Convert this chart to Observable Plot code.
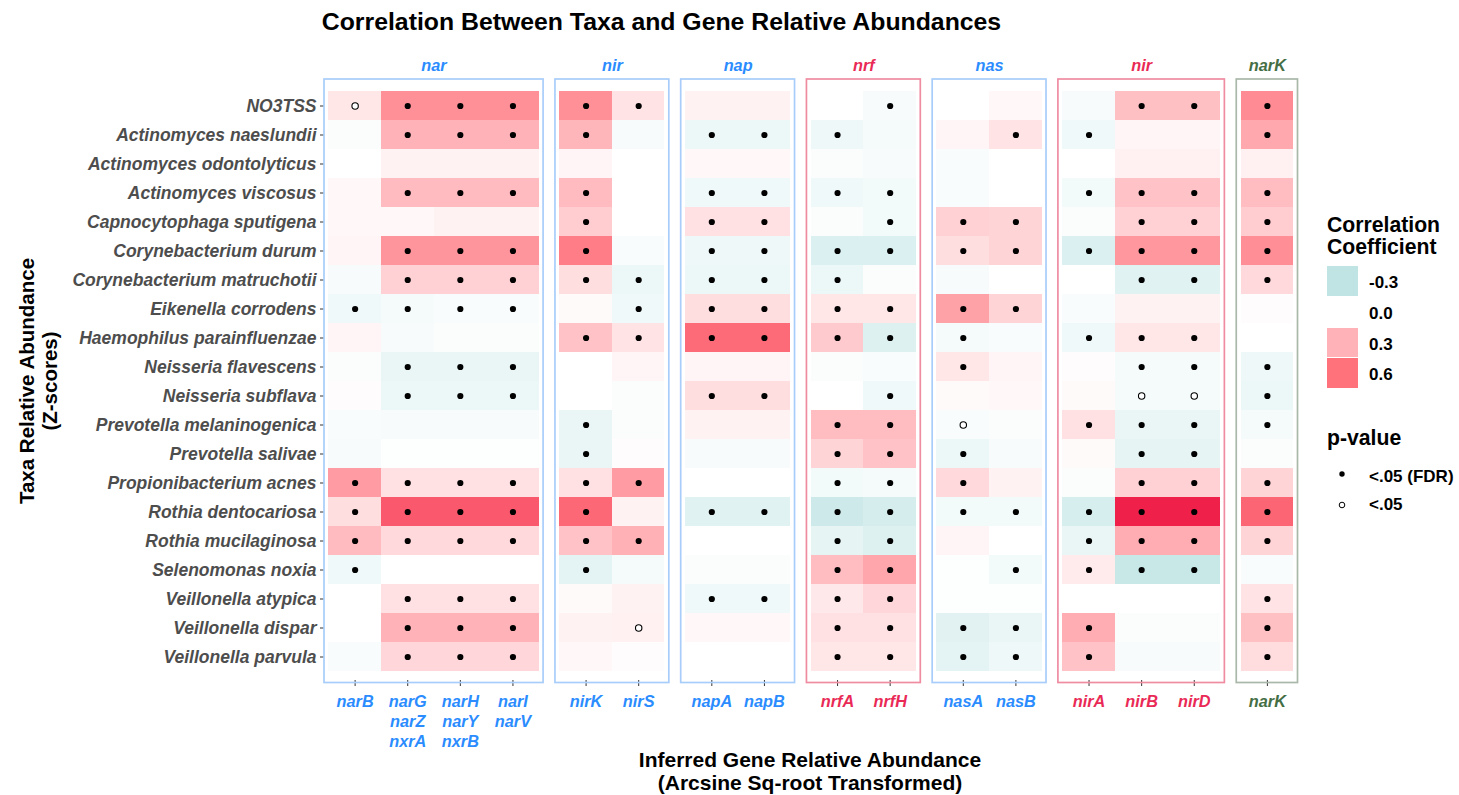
<!DOCTYPE html>
<html><head><meta charset="utf-8">
<script src="https://cdn.jsdelivr.net/npm/d3@7"></script>
<script src="https://cdn.jsdelivr.net/npm/@observablehq/plot@0.6"></script>
<style>
body{margin:0;background:#fff;font-family:"Liberation Sans",Arial,sans-serif;}
#wrap{position:relative;width:1459px;height:795px;overflow:hidden;background:#fff;}
#chart{position:absolute;left:0;top:0;}
.abs{position:absolute;font-weight:bold;color:#000;white-space:nowrap;}
.lg{position:absolute;font-weight:bold;font-size:17px;line-height:20px;color:#000;white-space:nowrap;}
</style></head><body>
<div id="wrap">
 <div id="chart"></div>
 <div class="abs" style="left:0;width:1323px;top:8px;text-align:center;font-size:24.8px;line-height:28px;">Correlation Between Taxa and Gene Relative Abundances</div>
 <div class="abs" style="left:410px;width:800px;top:748px;text-align:center;font-size:21px;line-height:23px;">Inferred Gene Relative Abundance<br>(Arcsine Sq-root Transformed)</div>
 <div class="abs" style="left:-162px;top:358px;width:400px;height:46px;text-align:center;font-size:20.5px;line-height:23px;transform:rotate(-90deg);">Taxa Relative Abundance<br>(Z-scores)</div>
 <div id="legend"></div>
</div>
<script>
const taxa = ["NO3TSS","Actinomyces naeslundii","Actinomyces odontolyticus","Actinomyces viscosus","Capnocytophaga sputigena","Corynebacterium durum","Corynebacterium matruchotii","Eikenella corrodens","Haemophilus parainfluenzae","Neisseria flavescens","Neisseria subflava","Prevotella melaninogenica","Prevotella salivae","Propionibacterium acnes","Rothia dentocariosa","Rothia mucilaginosa","Selenomonas noxia","Veillonella atypica","Veillonella dispar","Veillonella parvula"];
const geneLabels = ["narB","narG\nnarZ\nnxrA","narH\nnarY\nnxrB","narI\nnarV","nirK","nirS","napA","napB","nrfA","nrfH","nasA","nasB","nirA","nirB","nirD","narK"];
const groupNames = ["nar","nir","nap","nrf","nas","nir","narK"];
const groupSizes = [4,2,2,2,2,3,1];
const groupKinds = ["blue","blue","blue","red","blue","red","green"];
const kindText = {blue:"#2b8cff", red:"#ea2a56", green:"#456e45"};
const kindBox = {blue:"#a9cdfa", red:"#f08ca2", green:"#a9b8a9"};
// correlation coefficients, one row per taxon, columns in geneLabels order
const rValues = [
 [0.10,0.46,0.46,0.46,0.46,0.11,0.05,0.05,0.00,-0.04,0.00,0.03,-0.04,0.25,0.25,0.48],
 [-0.02,0.30,0.30,0.30,0.29,-0.04,-0.09,-0.09,-0.08,-0.05,0.04,0.11,-0.07,0.04,0.04,0.35],
 [0.00,0.05,0.05,0.05,0.04,0.00,0.03,0.03,-0.02,-0.04,-0.03,0.00,0.00,0.06,0.06,0.06],
 [0.03,0.27,0.27,0.27,0.27,0.00,-0.07,-0.07,-0.07,-0.06,-0.03,0.00,-0.06,0.24,0.24,0.26],
 [0.03,0.03,0.05,0.05,0.20,0.00,0.12,0.12,-0.02,-0.06,0.18,0.17,-0.02,0.18,0.18,0.20],
 [0.04,0.44,0.44,0.44,0.55,-0.03,-0.08,-0.08,-0.17,-0.17,0.13,0.17,-0.17,0.43,0.43,0.47],
 [-0.04,0.18,0.18,0.18,0.13,-0.09,-0.09,-0.09,-0.09,-0.02,-0.04,0.00,0.00,-0.15,-0.15,0.15],
 [-0.07,-0.05,-0.03,-0.03,0.02,-0.07,0.13,0.13,0.10,0.10,0.38,0.17,-0.03,0.05,0.05,0.01],
 [0.04,-0.04,-0.02,-0.02,0.24,0.11,0.62,0.62,0.21,-0.16,-0.05,-0.03,-0.07,0.10,0.10,0.00],
 [-0.02,-0.10,-0.10,-0.10,0.00,0.04,0.04,0.04,-0.02,-0.03,0.10,0.04,0.01,-0.05,-0.05,-0.08],
 [0.01,-0.09,-0.09,-0.09,0.00,-0.02,0.13,0.13,0.00,-0.07,0.02,0.03,0.02,-0.05,-0.05,-0.09],
 [-0.03,-0.04,-0.04,-0.04,-0.10,-0.02,0.05,0.05,0.26,0.26,-0.03,-0.02,0.12,-0.10,-0.10,-0.05],
 [-0.04,-0.01,-0.01,-0.01,-0.10,0.01,-0.04,-0.04,0.17,0.24,-0.09,-0.04,0.02,-0.12,-0.12,-0.02],
 [0.41,0.12,0.12,0.12,0.12,0.41,0.00,0.00,-0.06,-0.05,0.15,0.05,-0.02,0.18,0.18,0.17],
 [0.13,0.68,0.68,0.68,0.63,0.05,-0.15,-0.15,-0.24,-0.20,-0.06,-0.06,-0.19,0.85,0.85,0.64],
 [0.27,0.15,0.15,0.15,0.24,0.31,0.00,0.00,-0.12,-0.16,0.04,0.00,-0.10,0.33,0.33,0.17],
 [-0.07,0.00,0.00,0.00,-0.13,-0.05,-0.02,-0.02,0.26,0.36,-0.01,-0.06,0.08,-0.26,-0.26,-0.03],
 [0.00,0.12,0.12,0.12,0.02,0.05,-0.07,-0.07,0.09,0.16,-0.01,-0.01,0.00,0.00,0.00,0.11],
 [0.00,0.30,0.30,0.30,0.05,0.06,0.03,0.03,0.12,0.12,-0.14,-0.10,0.33,-0.02,-0.02,0.25],
 [-0.03,0.16,0.16,0.16,0.03,0.01,0.00,0.00,0.10,0.10,-0.13,-0.08,0.24,-0.04,-0.04,0.14]
];
// significance: 2 = p<.05 (FDR), 1 = p<.05, 0 = none
const pValues = [
 [1,2,2,2,2,2,0,0,0,2,0,0,0,2,2,2],
 [0,2,2,2,2,0,2,2,2,0,0,2,2,0,0,2],
 [0,0,0,0,0,0,0,0,0,0,0,0,0,0,0,0],
 [0,2,2,2,2,0,2,2,2,2,0,0,2,2,2,2],
 [0,0,0,0,2,0,2,2,0,2,2,2,0,2,2,2],
 [0,2,2,2,2,0,2,2,2,2,2,2,2,2,2,2],
 [0,2,2,2,2,2,2,2,2,0,0,0,0,2,2,2],
 [2,2,2,2,0,2,2,2,2,2,2,2,0,0,0,0],
 [0,0,0,0,2,2,2,2,2,2,2,0,2,2,2,0],
 [0,2,2,2,0,0,0,0,0,0,2,0,0,2,2,2],
 [0,2,2,2,0,0,2,2,0,2,0,0,0,1,1,2],
 [0,0,0,0,2,0,0,0,2,2,1,0,2,2,2,2],
 [0,0,0,0,2,0,0,0,2,2,2,0,0,2,2,0],
 [2,2,2,2,2,2,0,0,2,2,2,0,0,2,2,2],
 [2,2,2,2,2,0,2,2,2,2,2,2,2,2,2,2],
 [2,2,2,2,2,2,0,0,2,2,0,0,2,2,2,2],
 [2,0,0,0,2,0,0,0,2,2,0,2,2,2,2,0],
 [0,2,2,2,0,0,2,2,2,2,0,0,0,0,0,2],
 [0,2,2,2,0,1,0,0,2,2,2,2,2,0,0,2],
 [0,2,2,2,0,0,0,0,2,2,2,2,2,0,0,2]
];
const legendValues = [-0.3, 0.0, 0.3, 0.6];

// layout in column units
const gapU = 0.39, padU = 0.082;
const pos = [], grpOf = [];
{ let k = 0; groupSizes.forEach((n, g) => { for (let i = 0; i < n; i++) { pos.push(k + g * gapU); grpOf.push(g); k++; } }); }
const xmin = pos[0] - 0.5 - padU, xmax = pos[pos.length - 1] + 0.5 + padU;
const groups = groupNames.map((name, g) => {
  const idx = pos.map((p, j) => j).filter(j => grpOf[j] === g);
  return {name, kind: groupKinds[g], x1: pos[idx[0]] - 0.5 - padU, x2: pos[idx[idx.length - 1]] + 0.5 + padU,
          xc: (pos[idx[0]] + pos[idx[idx.length - 1]]) / 2, idx};
});
const cells = [];
taxa.forEach((t, i) => geneLabels.forEach((g, j) => cells.push({taxon: t, j, r: rValues[i][j], p: pValues[i][j]})));

const font = {fontWeight: "bold", fontStyle: "italic", fontSize: 16.3};
const marks = [
  Plot.barX(cells, {x1: d => pos[d.j] - 0.5, x2: d => pos[d.j] + 0.5, y: "taxon", fill: "r", shapeRendering: "crispEdges"}),
  Plot.dot(cells.filter(d => d.p === 2), {x: d => pos[d.j], y: "taxon", r: 3.1, fill: "black", stroke: "none"}),
  Plot.dot(cells.filter(d => d.p === 1), {x: d => pos[d.j], y: "taxon", r: 3.2, fill: "white", stroke: "black", strokeWidth: 1.1}),
  Plot.axisY({tickSize: 4, tickPadding: 4, fontSize: 17.5, fontWeight: "bold", fontStyle: "italic", fill: "#4d4d4d", stroke: "#333", label: null}),
  Plot.axisX({ticks: pos, tickSize: 6, tickFormat: () => "", stroke: "#333", label: null})
];
groups.forEach(G => {
  marks.push(Plot.rect([G], {x1: "x1", x2: "x2", fill: "none", stroke: kindBox[G.kind], strokeWidth: 1.7, insetTop: -3, insetBottom: -2.5}));
  marks.push(Plot.text([G], {x: "xc", text: "name", frameAnchor: "top", lineAnchor: "middle", dy: -17, fill: kindText[G.kind], ...font}));
  marks.push(Plot.text(G.idx, {x: j => pos[j], text: j => geneLabels[j], frameAnchor: "bottom", lineAnchor: "top", dy: 12, lineHeight: 1.23, fill: kindText[G.kind], ...font}));
});

const plot = Plot.plot({
  width: 1459, height: 795,
  marginLeft: 324, marginRight: 161.5, marginTop: 82, marginBottom: 115,
  style: {fontFamily: '"Liberation Sans", Arial, sans-serif', background: "transparent"},
  x: {type: "linear", domain: [xmin, xmax]},
  y: {type: "band", domain: taxa, padding: 0},
  color: {type: "linear", domain: [-0.3, 0, 0.3, 0.6, 0.85], range: ["#c0e4e4", "#ffffff", "#ffb3b8", "#ff727c", "#ef2049"], clamp: true},
  marks
});
document.getElementById("chart").appendChild(plot);

// legend (colors from the plot's color scale)
const cs = plot.scale("color");
const lg = document.getElementById("legend");
let html = '<div class="abs" style="left:1327px;top:214px;font-size:21.2px;line-height:21.7px;">Correlation<br>Coefficient</div>';
legendValues.forEach((v, i) => {
  const top = 266 + i * 30.8;
  html += `<div style="position:absolute;left:1327px;top:${top}px;width:31px;height:29.6px;background:${v === 0 ? "#ffffff" : cs.apply(v)}"></div>`;
  html += `<div class="lg" style="left:1369px;top:${top + 7}px;">${v.toFixed(1)}</div>`;
});
html += '<div class="abs" style="left:1327px;top:427px;font-size:21.2px;line-height:21.7px;">p-value</div>';
html += '<svg style="position:absolute;left:1332px;top:464px" width="20" height="52"><circle cx="10" cy="10" r="2.7" fill="black"/><circle cx="10" cy="41" r="2.8" fill="white" stroke="black" stroke-width="1"/></svg>';
html += '<div class="lg" style="left:1369px;top:467px;">&lt;.05 (FDR)</div>';
html += '<div class="lg" style="left:1369px;top:495px;">&lt;.05</div>';
lg.innerHTML = html;
</script>
</body></html>
